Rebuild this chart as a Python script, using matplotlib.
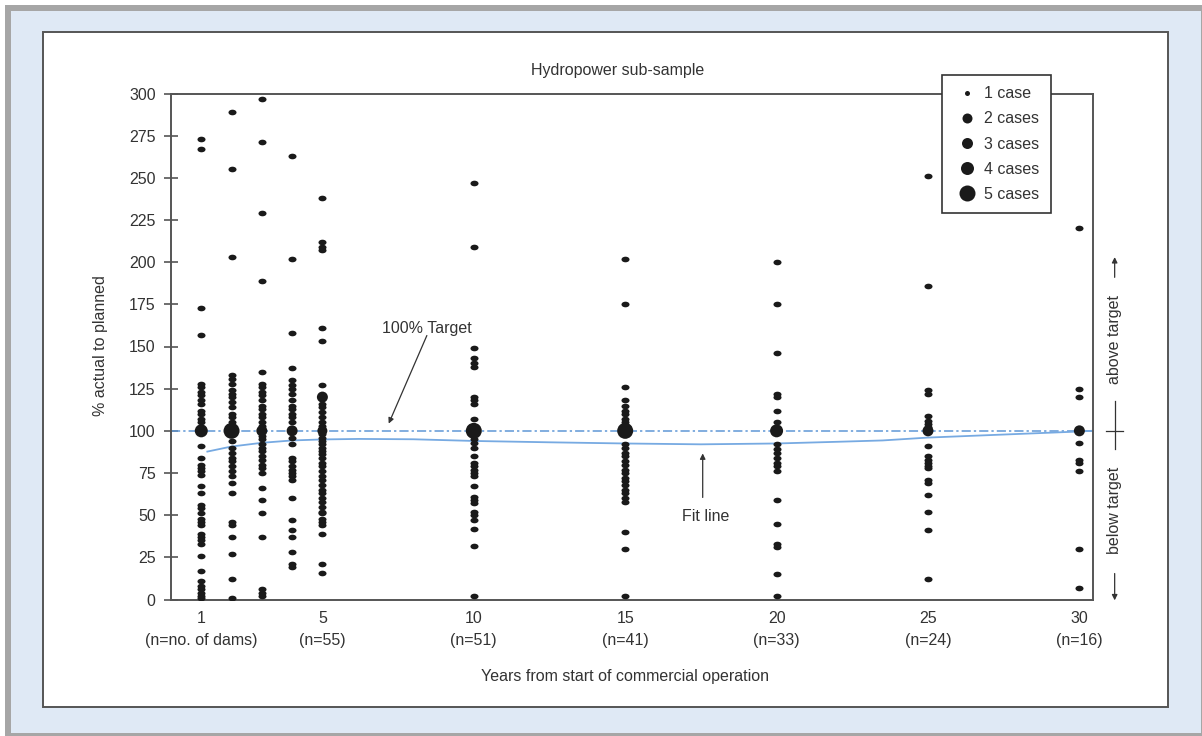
import numpy as np
import matplotlib.pyplot as plt
import matplotlib.transforms as mtransforms
from matplotlib.patches import Rectangle
from matplotlib.path import Path
from matplotlib.lines import Line2D

plt.rcParams['font.family'] = ['Liberation Sans', 'DejaVu Sans']

# single-case readings per year (% actual to planned)
y1 = [273, 267, 173, 157, 128, 126, 123, 121, 118, 116, 112, 110, 107, 105, 91, 84, 80, 78,
      76, 74, 67, 63, 56, 54, 51, 48, 46, 44, 39, 37, 35, 33, 26, 17, 11, 8, 6, 4, 2, 1]
y2 = [289, 255, 203, 133, 131, 128, 124, 122, 120, 117, 114, 110, 108, 105, 94, 90, 87, 84,
      82, 79, 76, 73, 69, 63, 46, 44, 37, 27, 12, 1]
y3 = [297, 271, 229, 189, 135, 128, 126, 123, 121, 118, 115, 113, 110, 108, 105, 103, 97, 95,
      92, 90, 88, 85, 83, 80, 78, 75, 66, 59, 51, 37, 6, 4, 2]
y4 = [263, 202, 158, 137, 130, 127, 125, 122, 118, 115, 113, 110, 108, 105, 96, 92, 84, 82,
      79, 77, 75, 73, 71, 60, 47, 41, 37, 28, 21, 19]
y5 = [238, 212, 209, 207, 161, 153, 127, 116, 114, 111, 108, 105, 103, 98, 96, 94, 92, 90, 88,
      86, 84, 81, 79, 76, 73, 71, 68, 65, 63, 60, 58, 55, 52, 51, 48, 46, 44, 39, 21, 16]
y10 = [247, 209, 149, 143, 140, 138, 120, 118, 116, 107, 95, 93, 90, 85, 81, 79, 77, 75, 73,
       67, 61, 59, 57, 52, 50, 47, 42, 32, 2]
y15 = [202, 175, 126, 118, 115, 112, 110, 107, 105, 92, 90, 87, 85, 82, 80, 77, 75, 72, 70,
       68, 65, 63, 60, 58, 40, 30, 2]
y20 = [200, 175, 146, 122, 120, 112, 105, 92, 89, 87, 84, 81, 79, 76, 59, 45, 33, 31, 15, 2]
y25 = [251, 186, 124, 122, 109, 106, 104, 102, 91, 85, 83, 81, 79, 78, 71, 69, 62, 52, 41, 12]
y30 = [220, 125, 120, 93, 83, 81, 76, 30, 7]

years = [1, 2, 3, 4, 5, 10, 15, 20, 25, 30]
singles = [y1, y2, y3, y4, y5, y10, y15, y20, y25, y30]

# multi-case dots
big_x = [1, 2, 3, 4, 5, 5, 10, 15, 20, 25, 30]
big_y = [100, 100, 100, 100, 120, 100, 100, 100, 100, 100, 100]
big_n = [4, 5, 3, 3, 3, 2, 5, 5, 4, 3, 3]

# fit line
fit_x = [1.2, 2, 3, 4, 5, 6.2, 8, 10, 12.5, 15, 17.5, 20, 22, 23.5, 25, 27.5, 30, 30.4]
fit_y = [87.7, 90.7, 92.9, 94.3, 94.9, 95.2, 95.0, 94.0, 93.2, 92.5, 92.0, 92.5, 93.5, 94.3,
         96.0, 97.8, 99.6, 100]

tick_years = [1, 5, 10, 15, 20, 25, 30]
tick_n = ['n=no. of dams', 'n=55', 'n=51', 'n=41', 'n=33', 'n=24', 'n=16']

case_labels = ['1 case', '2 cases', '3 cases', '4 cases', '5 cases']

W, H = 1202, 736
DOT = '#1a1a1a'
TXT = '#333333'
BLUE = '#5f97d6'
FS = 11.5
size_px = {1: 5, 2: 10, 3: 11, 4: 13, 5: 16}


def fx(px):
    return px / W


def fy(py):
    return 1 - py / H


fig = plt.figure(figsize=(W / 100, H / 100), dpi=100, facecolor='white')

# page background: gray border, light blue card, white panel
fig.add_artist(Rectangle((fx(5), 0), 1 - fx(5), fy(5), transform=fig.transFigure,
                         facecolor='#a6a6a6', edgecolor='none', zorder=-3))
fig.add_artist(Rectangle((fx(11), fy(733)), fx(1201) - fx(11), fy(11) - fy(733),
                         transform=fig.transFigure, facecolor='#dfe9f5', edgecolor='none', zorder=-2))
fig.add_artist(Rectangle((fx(43), fy(707)), fx(1168) - fx(43), fy(32) - fy(707),
                         transform=fig.transFigure, facecolor='white', edgecolor='#555555',
                         linewidth=1.4, zorder=-1))

ax = fig.add_axes([fx(171), fy(599.5), fx(1093) - fx(171), fy(93.5) - fy(599.5)])
ax.set_facecolor('none')

ell = Path.unit_circle().transformed(mtransforms.Affine2D().scale(1.0, 0.7))
for yr, vals in zip(years, singles):
    ax.plot([yr] * len(vals), vals, ls='none', marker=ell, ms=5.8, color=DOT, mec='none', zorder=3)

ax.scatter(big_x, big_y, s=[(size_px[n] * 0.72) ** 2 for n in big_n], color=DOT,
           edgecolors='none', zorder=4)

ax.axhline(100, color=BLUE, lw=1.1, ls=(0, (6, 2, 1.5, 2)), zorder=2)
ax.plot(fit_x, fit_y, color='#77aae2', lw=1.3, zorder=2)

ax.set_xlim(0, 30.45)
ax.set_ylim(0, 300)
ax.set_yticks(np.arange(0, 301, 25))
ax.set_xticks(tick_years)
ax.set_xticklabels([f'{y}\n({n})' for y, n in zip(tick_years, tick_n)])
for lab in ax.get_xticklabels():
    lab.set_linespacing(1.6)
ax.tick_params(axis='x', length=0, pad=8, labelsize=FS, labelcolor=TXT)
ax.tick_params(axis='y', direction='inout', length=10, width=1.2, color='#555555',
               pad=6, labelsize=FS, labelcolor=TXT)
for s in ax.spines.values():
    s.set_color('#555555')
    s.set_linewidth(1.4)

fig.text(fx(618), fy(71), 'Hydropower sub-sample', ha='center', va='center', fontsize=FS, color=TXT)
fig.text(fx(100), fy(346), '% actual to planned', ha='center', va='center', rotation=90,
         fontsize=FS, color=TXT)
fig.text(fx(625), fy(676), 'Years from start of commercial operation', ha='center', va='center',
         fontsize=FS, color=TXT)

# annotations
arrow = dict(arrowstyle='-|>', color='#333333', lw=0.9, mutation_scale=8, shrinkA=0, shrinkB=0)
ax.text(8.45, 160.5, '100% Target', ha='center', va='center', fontsize=FS, color=TXT)
ax.annotate('', xy=(7.19, 104.3), xytext=(8.45, 156.5), arrowprops=arrow)
ax.text(17.66, 49.2, 'Fit line', ha='center', va='center', fontsize=FS, color=TXT)
ax.annotate('', xy=(17.56, 86.6), xytext=(17.56, 60.5), arrowprops=arrow)

# above / below target marker on the right
tr = mtransforms.blended_transform_factory(ax.transAxes, ax.transData)
xr = 1.0235
ax.text(xr, 154.4, 'above target', transform=tr, rotation=90, ha='center', va='center',
        fontsize=FS, color=TXT, clip_on=False)
ax.text(xr, 52.8, 'below target', transform=tr, rotation=90, ha='center', va='center',
        fontsize=FS, color=TXT, clip_on=False)
ax.annotate('', xy=(xr, 203), xytext=(xr, 191), xycoords=tr, textcoords=tr, arrowprops=arrow,
            annotation_clip=False)
ax.annotate('', xy=(xr, -0.5), xytext=(xr, 15.4), xycoords=tr, textcoords=tr, arrowprops=arrow,
            annotation_clip=False)
ax.plot([xr, xr], [117.5, 89.5], transform=tr, color='#333333', lw=0.9, clip_on=False)
ax.plot([1.014, 1.0325], [100, 100], transform=tr, color='#333333', lw=0.9, clip_on=False)

# legend
handles = [Line2D([], [], ls='none', marker='o', ms=size_px[n] * 0.72, color=DOT, mec='none')
           for n in range(1, 6)]
leg = ax.legend(handles, case_labels, loc='upper left', bbox_to_anchor=(0.836, 1.0366),
                frameon=True, fancybox=False, edgecolor='#333333', framealpha=1,
                borderpad=0.7, labelspacing=0.64, handlelength=1.8, handletextpad=0.15,
                fontsize=FS, borderaxespad=0)
leg.get_frame().set_linewidth(1.2)
for t in leg.get_texts():
    t.set_color(TXT)
leg.set_zorder(10)

fig.savefig('out.png', dpi=100, facecolor=fig.get_facecolor())
